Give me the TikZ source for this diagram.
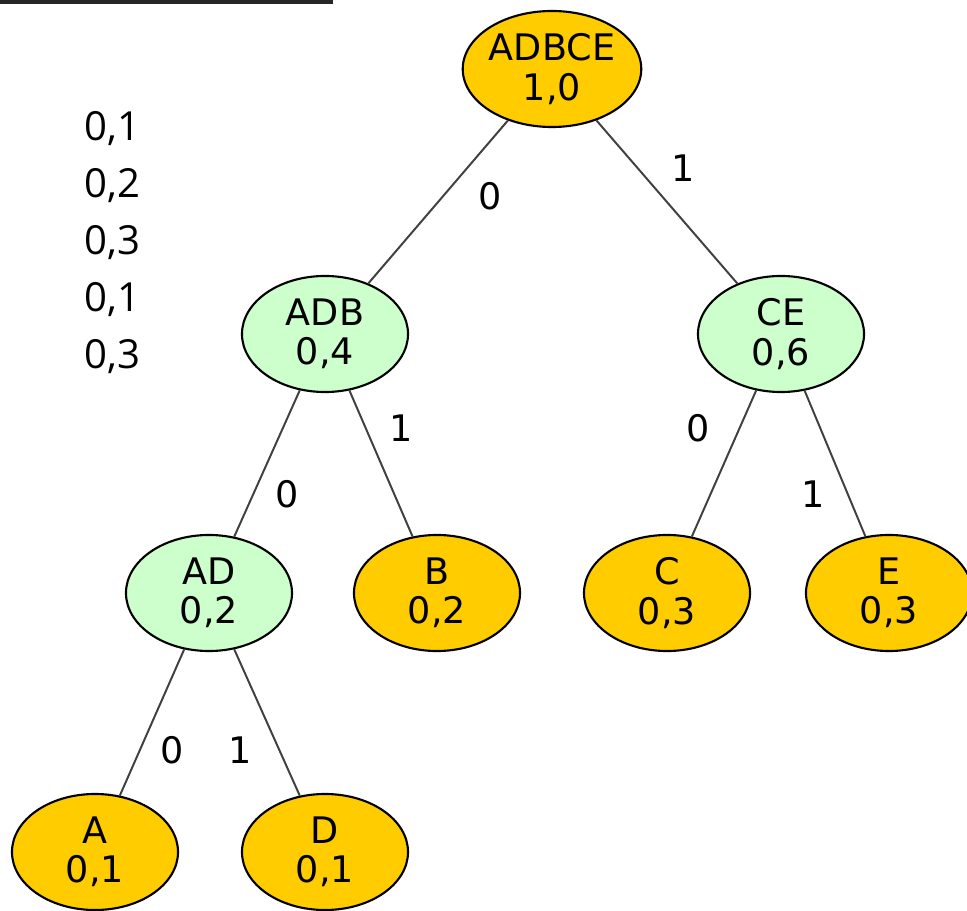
\documentclass[tikz,border=0pt]{standalone}
\usepackage{fontspec}
\setmainfont{DejaVu Sans}
\newfontfamily\listfont{Open Sans}
\usetikzlibrary{shapes.geometric}
\tikzset{every node/.style={font=\fontsize{26}{28}\selectfont}}
\definecolor{leafcol}{RGB}{255,204,0}
\definecolor{mergecol}{RGB}{204,255,204}
\colorlet{linkcol}{black!75}
\colorlet{rulecol}{black!85}
\tikzset{
  treenode/.style={ellipse, draw=black, line width=1.5pt, minimum width=4.15cm,
    minimum height=2.9cm, inner sep=0pt, align=center},
  leafnode/.style={treenode, fill=leafcol},
  mergenode/.style={treenode, fill=mergecol},
  link/.style={draw=linkcol, line width=1.4pt},
  bit/.style={inner sep=0pt},
  prob/.style={anchor=base west, inner sep=0pt, font=\listfont\fontsize{28.5}{30}\selectfont},
}

\begin{document}
\begin{tikzpicture}[x=0.025cm, y=-0.025cm]
  \useasboundingbox (0,0) rectangle (967,911);

  % Rule at the top.
  \draw[rulecol, line width=3.2pt] (0,1.5) -- (333,1.5);

  % Probabilities.
  \foreach \p [count=\i] in {{0,1},{0,2},{0,3},{0,1},{0,3}} {
    \node[prob] (p\i) at (84, {141+56.8*(\i-1)}) {\p};
  }

  % Tree nodes.
  \node[leafnode]  (adbce) at (552,69)  {ADBCE\\1,0};
  \node[mergenode] (adb)   at (325,334) {ADB\\0,4};
  \node[mergenode] (ce)    at (781,334) {CE\\0,6};
  \node[mergenode] (ad)    at (209,593) {AD\\0,2};
  \node[leafnode]  (b)     at (437,593) {B\\0,2};
  \node[leafnode]  (c)     at (667,593) {C\\0,3};
  \node[leafnode]  (e)     at (889,593) {E\\0,3};
  \node[leafnode]  (a)     at (95,852)  {A\\0,1};
  \node[leafnode]  (d)     at (325,852) {D\\0,1};

  % Links.
  \draw[link] (adbce) -- (adb);
  \draw[link] (adbce) -- (ce);
  \draw[link] (adb) -- (ad);
  \draw[link] (adb) -- (b);
  \draw[link] (ce) -- (c);
  \draw[link] (ce) -- (e);
  \draw[link] (ad) -- (a);
  \draw[link] (ad) -- (d);

  % Code bits.
  \node[bit] (bit1) at (490,196) {0};
  \node[bit] (bit2) at (683,168) {1};
  \node[bit] (bit3) at (287,494) {0};
  \node[bit] (bit4) at (401,428) {1};
  \node[bit] (bit5) at (698,428) {0};
  \node[bit] (bit6) at (813,494) {1};
  \node[bit] (bit7) at (172,750) {0};
  \node[bit] (bit8) at (240,750) {1};

\end{tikzpicture}
\end{document}
